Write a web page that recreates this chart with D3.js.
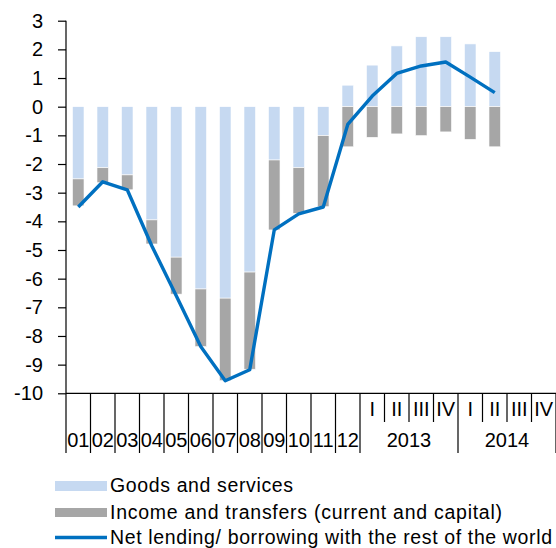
<!DOCTYPE html>
<html>
<head>
<meta charset="utf-8">
<script src="https://cdn.jsdelivr.net/npm/d3@7"></script>
<style>
  body { margin: 0; background: #fff; }
  svg { display: block; font-family: "Liberation Sans", Arial, sans-serif; }
</style>
</head>
<body>
<div id="container"></div>
<script>
// Data (percent of GDP)
const categories = ["01","02","03","04","05","06","07","08","09","10","11","12",
  "2013 I","2013 II","2013 III","2013 IV","2014 I","2014 II","2014 III","2014 IV"];
const annualLabels = ["01","02","03","04","05","06","07","08","09","10","11","12"];
const quarterLabels = ["I","II","III","IV"];
const yearLabels = ["2013","2014"];
const goods  = [-2.52,-2.13,-2.38,-3.95,-5.25,-6.36,-6.68,-5.77,-1.86,-2.13,-1.01,0.75,1.45,2.12,2.44,2.44,2.19,1.92];
const income = [-0.94,-0.52,-0.52,-0.84,-1.29,-2.01,-2.88,-3.39,-2.44,-1.59,-2.48,-1.40,-1.07,-0.95,-1.01,-0.88,-1.14,-1.40];
const net    = [-3.50,-2.62,-2.90,-4.85,-6.60,-8.37,-9.56,-9.18,-4.30,-3.74,-3.50,-0.62,0.37,1.16,1.42,1.56,1.03,0.49];
const yTicks = d3.range(-10, 4);
const legendLabels = ["Goods and services", "Income and transfers (current and capital)", "Net lending/ borrowing with the rest of the world"];

const width = 556, height = 548;
const colGoods = "#c6d9f1", colIncome = "#a6a6a6", colNet = "#0070c0";

const svg = d3.select("#container").append("svg")
  .attr("width", width)
  .attr("height", height);

// scales
const xSlot = d3.scaleBand().domain(categories).range([66, 556]).padding(0);
const xBar = d3.scaleBand().domain(categories).range([66, 556])
  .paddingInner(0.53).paddingOuter(0.265);
const y = d3.scaleLinear().domain([-10, 3]).range([393.3, 20.7]);

// stacked bars (positive goods above zero, income below)
const table = goods.map((g, i) => ({ cat: categories[i], goods: g, income: income[i] }));
const series = d3.stack().keys(["goods", "income"]).offset(d3.stackOffsetDiverging)(table);
const colors = { goods: colGoods, income: colIncome };

svg.append("g").selectAll("g")
  .data(series)
  .join("g")
  .attr("fill", d => colors[d.key])
  .selectAll("rect")
  .data(d => d)
  .join("rect")
  .attr("x", d => xBar(d.data.cat))
  .attr("width", xBar.bandwidth())
  .attr("y", d => y(Math.max(d[0], d[1])))
  .attr("height", d => Math.abs(y(d[0]) - y(d[1])))
  .attr("stroke", "#fff")
  .attr("stroke-width", 0.6);

// net lending line
const line = d3.line()
  .x((d, i) => xSlot(categories[i]) + xSlot.bandwidth() / 2)
  .y(d => y(d));

svg.append("path")
  .datum(net)
  .attr("d", line)
  .attr("fill", "none")
  .attr("stroke", colNet)
  .attr("stroke-width", 3.4)
  .attr("stroke-linejoin", "round");

const labelFont = "20px";

// y axis
const yAxis = svg.append("g")
  .attr("transform", "translate(66,0)")
  .call(d3.axisLeft(y).tickValues(yTicks).tickSize(8).tickPadding(15).tickFormat(d3.format("d")));
yAxis.select(".domain").attr("stroke", "#000").attr("stroke-width", 1.2).attr("d", `M0,${y(3)}V${y(-10)}`);
yAxis.selectAll(".tick line").attr("stroke", "#000").attr("stroke-width", 1.2);
yAxis.selectAll(".tick text")
  .attr("font-size", labelFont)
  .attr("font-family", "'Liberation Sans', Arial, sans-serif")
  .attr("fill", "#000")
  .text(d => d < 0 ? "-" + Math.abs(d) : d);

// x axis line
const xg = svg.append("g").attr("stroke", "#000").attr("stroke-width", 1.2);
xg.append("line")
  .attr("x1", 66).attr("x2", 556)
  .attr("y1", y(-10)).attr("y2", y(-10));

// category separators: long ticks for years / annual, short for quarters
const boundaries = categories.map(c => xSlot(c)).concat([556]);
boundaries.forEach((bx, i) => {
  const isQuarterInner = i > 12 && (i - 12) % 4 !== 0;
  xg.append("line")
    .attr("x1", bx).attr("x2", bx)
    .attr("y1", y(-10))
    .attr("y2", isQuarterInner ? 422 : 453);
});

// annual labels
svg.append("g").selectAll("text")
  .data(annualLabels)
  .join("text")
  .attr("x", d => xSlot(d) + xSlot.bandwidth() / 2)
  .attr("y", 447)
  .attr("text-anchor", "middle")
  .attr("font-size", labelFont)
  .text(d => d);

// quarter labels
svg.append("g").selectAll("text")
  .data(categories.slice(12))
  .join("text")
  .attr("x", d => xSlot(d) + xSlot.bandwidth() / 2)
  .attr("y", 416)
  .attr("text-anchor", "middle")
  .attr("font-size", labelFont)
  .text((d, i) => quarterLabels[i % 4]);

// year labels
svg.append("g").selectAll("text")
  .data(yearLabels)
  .join("text")
  .attr("x", (d, i) => xSlot(categories[12 + i * 4]) + xSlot.step() * 2)
  .attr("y", 447)
  .attr("text-anchor", "middle")
  .attr("font-size", labelFont)
  .text(d => d);

// legend
const legend = svg.append("g");
const rows = [
  { label: legendLabels[0], type: "rect", color: colGoods, yy: 486, h: 10, w: 183 },
  { label: legendLabels[1], type: "rect", color: colIncome, yy: 512.5, h: 9, w: 392 },
  { label: legendLabels[2], type: "line", color: colNet, yy: 537.5, h: 3.4, w: 442 }
];
rows.forEach(r => {
  if (r.type === "rect") {
    legend.append("rect")
      .attr("x", 55).attr("width", 52)
      .attr("y", r.yy - r.h / 2).attr("height", r.h)
      .attr("fill", r.color);
  } else {
    legend.append("line")
      .attr("x1", 55).attr("x2", 107)
      .attr("y1", r.yy).attr("y2", r.yy)
      .attr("stroke", r.color).attr("stroke-width", r.h);
  }
  legend.append("text")
    .attr("x", 110)
    .attr("y", r.yy + 6)
    .attr("font-size", "19.5px")
    .attr("textLength", r.w)
    .attr("lengthAdjust", "spacing")
    .text(r.label);
});
</script>
</body>
</html>
